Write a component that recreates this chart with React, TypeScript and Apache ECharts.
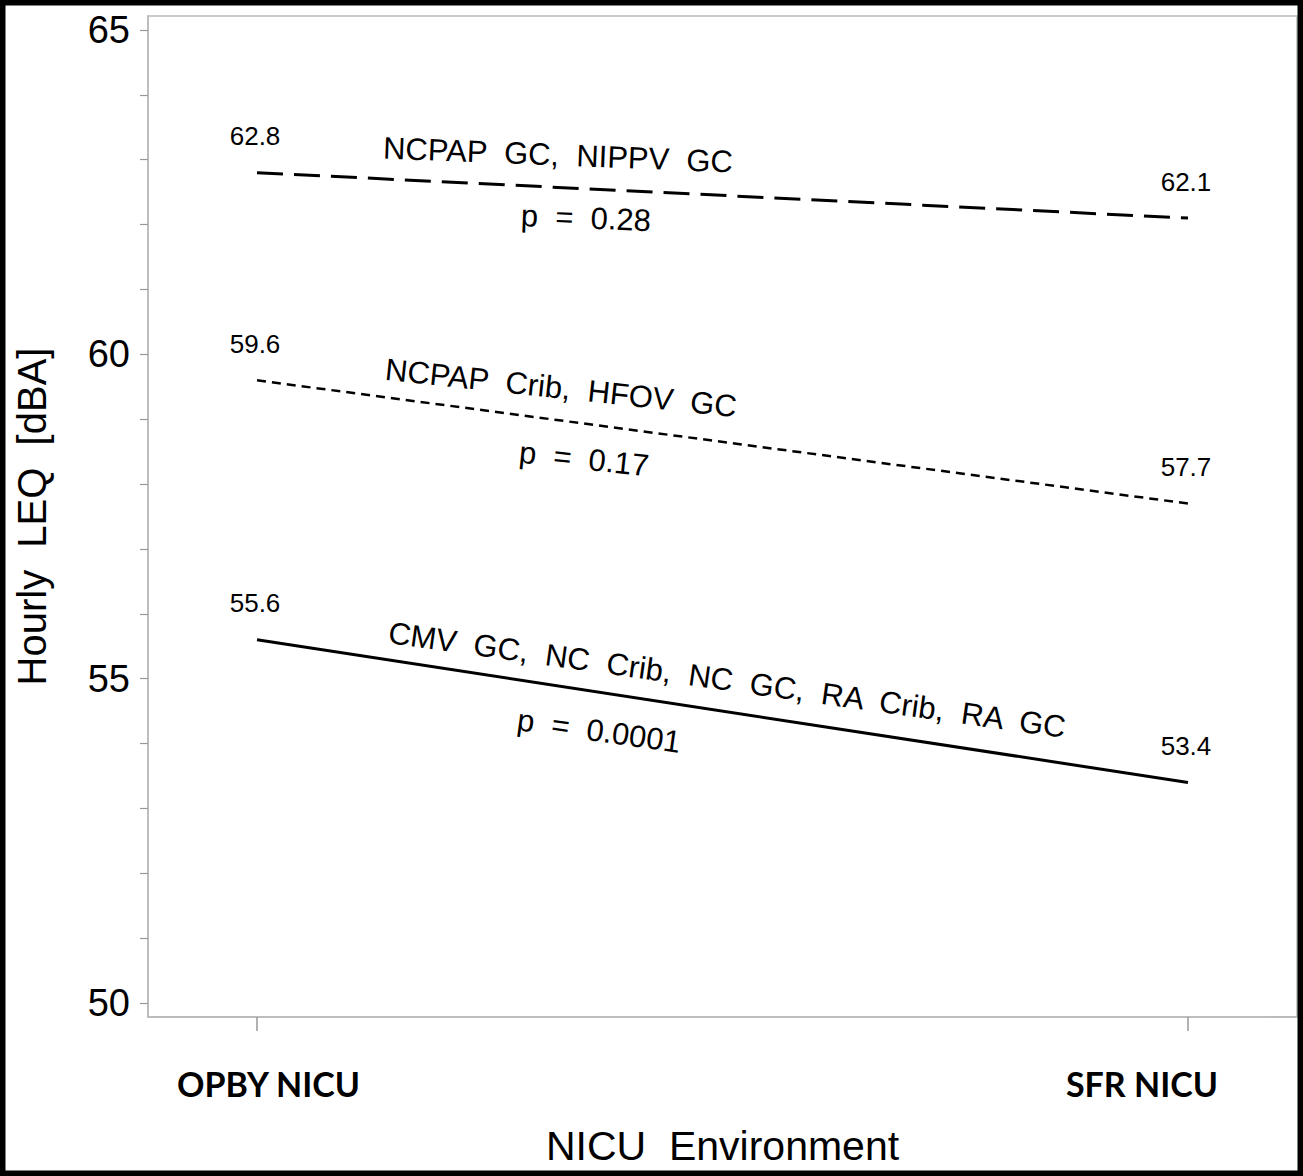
import React, { useEffect, useRef } from "react";
import * as echarts from "echarts";

const categories = ["OPBY NICU", "SFR NICU"];
const categoryIndex = [0, 1];
const groupA = [62.8, 62.1];
const groupB = [59.6, 57.7];
const groupC = [55.6, 53.4];
const groupLabels = ["NCPAP  GC,  NIPPV  GC", "NCPAP  Crib,  HFOV  GC", "CMV  GC,  NC  Crib,  NC  GC,  RA  Crib,  RA  GC"];
const pLabels = ["p  =  0.28", "p  =  0.17", "p  =  0.0001"];
const yLabelValues = [50, 55, 60, 65];
const yTickValues = [50, 51, 52, 53, 54, 55, 56, 57, 58, 59, 60, 61, 62, 63, 64, 65];

const FONT = "'Liberation Sans', Arial, Helvetica, sans-serif";

export default function App() {
  const ref = useRef<HTMLDivElement>(null);
  useEffect(() => {
    document.body.style.margin = "0";
    const chart = echarts.init(ref.current!, null, { renderer: "svg" });
    const mk = (vals: number[]) => categoryIndex.map((i) => [i, vals[i]]);
    const label = {
      show: true,
      position: "top",
      distance: 23,
      offset: [-2, 0],
      fontSize: 26,
      fontFamily: FONT,
      color: "#000",
      formatter: (p: any) => String(p.value[1].toFixed(1)),
    };
    const ann = (text: string, x: number, y: number, deg: number) => ({
      type: "text",
      x,
      y,
      rotation: (deg * Math.PI) / 180,
      style: {
        text,
        fontSize: 31,
        fontFamily: FONT,
        fill: "#000",
        align: "center",
        verticalAlign: "middle",
      },
    });
    const seriesBase = {
      type: "line",
      symbol: "circle",
      symbolSize: 1,
      showSymbol: true,
      itemStyle: { color: "transparent", borderColor: "transparent", borderWidth: 0 },
      label,
    };
    chart.setOption({
      animation: false,
      backgroundColor: "#fff",
      grid: {
        left: 148,
        right: 6,
        top: 16,
        bottom: 159,
        show: true,
        borderColor: "#b8b8b8",
        borderWidth: 1.5,
      },
      xAxis: {
        type: "value",
        min: -0.1171,
        max: 1.1171,
        name: "NICU  Environment",
        nameLocation: "middle",
        nameGap: 108,
        nameTextStyle: { fontSize: 41, fontFamily: FONT, color: "#000" },
        axisLine: { show: true, onZero: false, lineStyle: { color: "#b8b8b8", width: 1.5 } },
        axisTick: { show: true, customValues: [0, 1], length: 14, lineStyle: { color: "#999", width: 1.5 } },
        splitLine: { show: false },
        axisLabel: {
          customValues: [0, 1],
          margin: 49,
          formatter: (v: number) => (Math.round(v) === 0 ? "{a|" + categories[0] + "}" : "{b|" + categories[1] + "}"),
          rich: {
            a: { fontSize: 34, fontWeight: "bold", fontFamily: "Lato, 'Open Sans', sans-serif", color: "#000", padding: [0, 0, 0, 23] },
            b: { fontSize: 34, fontWeight: "bold", fontFamily: "Lato, 'Open Sans', sans-serif", color: "#000", padding: [0, 92, 0, 0] },
          },
        },
      },
      yAxis: {
        type: "value",
        min: 49.784,
        max: 65.216,
        name: "Hourly  LEQ  [dBA]",
        nameLocation: "middle",
        nameGap: 96,
        nameTextStyle: { fontSize: 40, fontFamily: FONT, color: "#000" },
        axisLine: { show: true, onZero: false, lineStyle: { color: "#b8b8b8", width: 1.5 } },
        axisTick: { show: true, customValues: yTickValues, length: 8, lineStyle: { color: "#999", width: 1.2 } },
        splitLine: { show: false },
        axisLabel: {
          customValues: yLabelValues,
          margin: 18,
          fontSize: 38,
          fontFamily: FONT,
          color: "#000",
        },
      },
      series: [
        { ...seriesBase, data: mk(groupA), lineStyle: { color: "#000", width: 3, type: [26, 11] } },
        { ...seriesBase, data: mk(groupB), lineStyle: { color: "#000", width: 2.5, type: [9, 6] } },
        { ...seriesBase, data: mk(groupC), lineStyle: { color: "#000", width: 3, type: "solid" } },
      ],
      graphic: [
        ann(groupLabels[0], 558, 155, -2.3),
        ann(pLabels[0], 586, 218, -2.3),
        ann(groupLabels[1], 561, 388, -6.1),
        ann(pLabels[1], 584, 459, -6.1),
        ann(groupLabels[2], 727, 680, -8),
        ann(pLabels[2], 599, 731, -8),
        {
          type: "rect",
          z: 100,
          shape: { x: 0, y: 0, width: 1303, height: 1176 },
          style: { fill: "none", stroke: "#000", lineWidth: 11 },
        },
      ],
    });
    return () => chart.dispose();
  }, []);
  return <div ref={ref} style={{ width: 1303, height: 1176 }} />;
}
